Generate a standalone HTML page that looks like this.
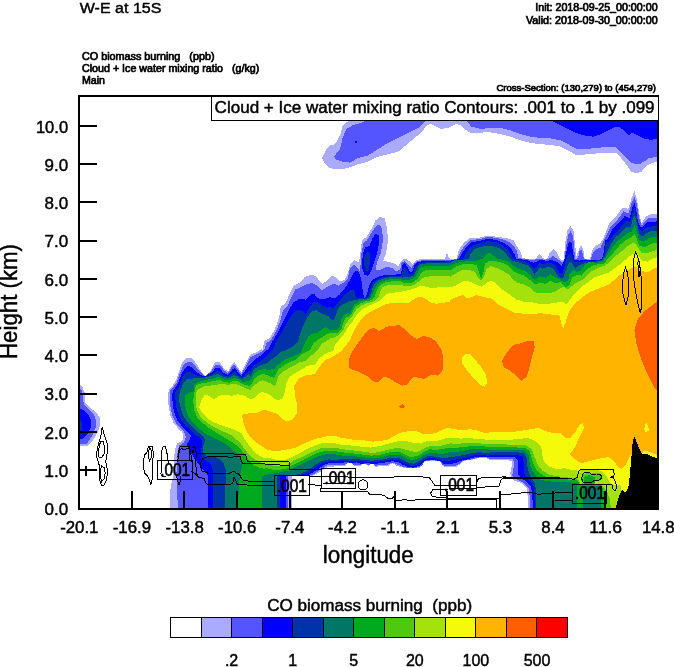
<!DOCTYPE html>
<html><head><meta charset="utf-8"><title>W-E at 15S</title>
<style>
html,body{margin:0;padding:0;background:#fff;}
body{width:674px;height:667px;position:relative;overflow:hidden;font-family:"Liberation Sans",sans-serif;}
svg text{font-family:"Liberation Sans",sans-serif;fill:#000;stroke:#000;stroke-width:0.45px;white-space:pre;}
</style></head><body>
<svg width="674" height="667" viewBox="0 0 674 667" style="position:absolute;left:0;top:0;will-change:transform">
<defs><clipPath id="pc"><rect x="79" y="96" width="580" height="414"/></clipPath></defs>
<g clip-path="url(#pc)" shape-rendering="crispEdges">
<polygon fill="#aaaaff" points="169.7,509.0 169.7,495.0 171.0,485.0 173.4,475.0 174.0,457.4 175.2,449.0 177.0,443.6 181.8,441.2 183.6,437.0 182.4,432.2 178.2,428.6 173.4,422.6 170.4,415.4 168.6,407.0 168.0,395.0 169.0,389.5 175.0,382.7 178.3,373.7 182.2,362.5 186.2,358.3 192.2,358.3 196.7,364.0 200.8,370.7 205.0,376.0 211.0,370.0 214.7,362.5 220.0,362.2 224.5,369.2 228.2,371.5 232.0,364.0 234.5,362.2 238.0,367.7 241.3,372.2 246.2,362.5 250.0,354.7 256.0,352.5 262.0,348.7 262.7,350.0 264.2,340.7 269.5,338.5 274.7,329.5 279.2,317.5 280.7,307.0 286.0,302.5 289.7,293.5 293.5,286.0 301.0,282.2 304.7,277.0 311.5,274.7 316.0,276.2 319.7,281.5 322.7,283.7 327.2,280.7 331.7,275.5 335.5,277.0 340.0,281.5 344.5,280.0 348.2,272.5 350.0,265.0 354.5,260.2 359.0,262.5 360.5,252.0 362.0,240.0 366.5,237.0 371.0,229.5 375.5,220.5 380.0,216.7 384.5,218.2 386.7,226.5 388.2,240.0 386.0,253.5 383.0,261.0 389.0,261.7 395.0,264.0 398.0,267.0 401.7,260.2 405.5,258.7 410.0,261.7 413.0,264.0 416.0,260.2 419.0,259.5 428.0,259.2 440.0,259.2 445.2,258.7 446.0,254.2 447.5,253.5 449.0,258.0 450.0,258.7 456.5,258.7 458.7,250.0 464.0,242.5 470.0,238.0 479.0,237.7 488.0,235.7 497.0,236.8 506.0,238.0 513.5,240.2 516.5,245.5 520.2,251.5 522.5,258.2 530.0,259.3 536.0,259.3 538.2,255.2 540.0,253.7 542.7,258.2 547.2,259.0 549.5,253.0 553.2,249.2 557.0,253.0 560.0,259.0 563.7,260.5 565.2,242.5 567.5,230.5 570.5,226.0 573.5,230.5 575.0,244.0 576.5,256.0 578.7,250.0 581.0,245.5 583.2,249.2 584.7,259.0 590.0,259.3 592.2,250.0 596.0,245.5 600.5,243.2 603.5,238.0 609.2,223.2 616.4,216.0 622.4,207.6 628.4,208.8 632.0,196.8 634.4,190.8 636.8,199.2 639.2,213.6 641.6,223.2 646.4,216.0 652.4,213.6 659.6,214.8 659.6,510.0 527.8,510.0 527.8,500.0 527.1,488.3 521.0,482.9 512.9,480.2 511.6,477.5 510.2,473.4 511.6,466.7 512.3,460.7 506.2,460.3 498.1,460.3 490.0,460.2 486.5,457.9 481.7,457.6 475.8,458.8 469.9,460.1 463.9,460.8 460.4,464.2 455.6,467.1 449.7,467.5 444.9,467.1 442.0,464.8 440.2,461.6 434.2,460.6 427.1,461.0 424.2,461.8 422.4,465.4 420.0,467.7 420.0,467.7 413.6,468.3 406.5,468.3 401.7,467.1 397.0,465.9 392.2,463.0 387.5,466.5 380.4,465.9 375.6,467.1 372.0,462.4 368.5,465.9 363.7,463.6 359.0,466.5 354.2,465.9 350.7,461.8 347.1,463.6 344.7,466.5 340.0,465.9 340.0,465.9 333.6,466.5 328.8,466.5 324.7,468.9 319.3,472.5 313.4,475.4 307.5,476.3 291.5,476.3 291.5,509.0 291.5,510.0 169.7,510.0"/>
<polygon fill="#aaaaff" points="322.0,158.0 326.0,150.0 330.0,145.4 335.0,144.2 340.1,135.4 342.6,125.3 347.7,121.5 355.2,119.0 355.2,96.0 659.0,96.0 659.0,161.8 657.7,161.8 651.4,163.1 646.4,165.6 641.3,171.9 636.3,173.2 631.2,171.9 626.2,164.4 621.1,158.0 616.1,152.5 606.0,153.0 595.9,153.5 585.8,154.3 580.8,155.5 575.8,155.0 568.2,150.5 560.6,146.7 550.5,144.9 540.4,144.2 530.4,142.9 520.3,140.4 510.2,136.6 500.1,134.1 490.0,132.3 486.4,132.3 478.8,132.8 471.2,133.3 466.2,130.3 461.1,125.3 456.1,124.0 448.5,127.8 441.0,129.0 435.9,126.5 430.9,124.0 427.1,125.3 420.8,132.8 413.2,139.1 405.7,145.4 398.1,151.7 388.0,154.3 377.9,156.8 367.8,161.8 357.7,164.4 347.7,168.1 337.6,169.4 330.0,168.1 325.0,164.0"/>
<polygon fill="#aaaaff" points="79.0,384.7 82.0,386.0 84.5,392.0 85.0,402.0 90.0,408.0 96.0,412.0 100.0,418.0 100.4,424.0 98.0,432.0 93.0,440.0 88.0,445.6 79.0,446.0"/>
<polygon fill="#5555ff" points="178.0,509.0 177.0,490.0 176.4,475.0 177.0,459.7 177.6,451.4 179.4,445.4 184.2,442.4 186.0,437.0 184.2,432.2 180.0,428.0 175.2,422.0 172.2,414.8 170.4,407.0 169.8,395.0 170.5,390.2 176.2,383.5 179.8,373.7 183.7,364.7 187.0,362.2 191.8,362.2 195.7,366.7 200.2,372.2 205.0,376.3 211.7,370.7 215.2,365.2 219.7,364.7 224.2,370.7 228.2,373.0 232.3,366.2 234.5,364.7 237.7,369.2 241.3,374.2 246.7,364.7 250.0,357.7 256.0,354.7 262.7,351.0 264.2,350.0 266.5,343.0 271.0,340.0 276.2,331.0 280.7,319.7 283.0,310.0 287.5,306.2 291.2,297.2 295.0,289.7 301.7,286.7 307.0,283.7 313.0,283.3 317.5,286.0 322.0,290.5 326.5,287.2 331.7,284.5 334.2,283.6 338.4,285.7 343.6,282.6 347.8,278.4 350.0,268.0 354.5,264.7 358.2,268.5 360.0,272.0 361.2,255.0 363.5,243.0 367.2,240.0 371.7,232.5 376.2,225.7 380.0,225.0 382.2,229.5 383.0,240.0 380.7,253.5 377.0,262.5 375.5,270.0 380.0,270.0 386.0,267.0 392.0,267.7 396.5,271.5 400.2,269.2 401.7,262.5 404.7,261.0 408.5,264.7 411.5,267.7 414.5,263.2 418.2,260.7 428.0,260.0 450.0,260.0 457.2,259.0 460.2,252.2 464.7,245.5 470.0,240.2 479.0,239.2 488.0,236.8 497.0,238.0 506.0,240.2 512.0,244.0 516.5,250.0 518.7,258.2 530.0,259.7 540.0,259.3 545.0,259.7 549.5,258.2 553.2,256.0 557.7,259.0 561.5,262.0 564.5,260.5 566.0,247.0 568.2,235.0 570.5,231.2 572.7,235.0 574.2,247.0 575.0,259.0 578.0,258.2 579.5,251.5 581.0,249.2 582.5,253.0 584.0,259.3 590.7,259.7 593.0,253.0 596.7,249.2 600.5,247.7 603.5,241.0 610.4,226.8 617.6,219.6 623.6,211.2 628.4,213.6 632.0,201.6 634.4,196.8 636.8,204.0 639.2,218.4 641.6,225.6 647.6,218.4 659.6,217.2 659.6,510.0 529.8,510.0 529.8,500.0 529.1,488.3 523.7,482.9 517.0,479.5 512.3,476.1 512.9,470.7 514.3,464.0 512.9,459.4 503.5,459.1 490.0,459.1 486.5,457.3 481.7,457.0 475.8,458.2 469.9,459.7 463.9,460.4 460.4,463.2 455.6,465.9 449.7,466.5 445.5,466.3 442.6,464.8 440.2,461.2 434.2,460.4 427.1,460.6 424.2,461.6 422.4,464.8 420.0,466.8 420.0,467.1 413.6,468.0 406.5,467.7 401.7,466.3 397.0,464.4 392.2,462.4 387.5,464.8 380.4,464.8 375.6,465.9 372.0,463.2 368.5,465.1 363.7,463.6 359.0,465.4 354.2,465.1 350.7,462.7 347.1,463.0 344.7,465.1 340.0,464.8 340.0,465.1 333.6,464.8 328.8,464.8 324.1,467.1 318.2,471.3 312.2,474.9 305.1,476.3 288.0,476.3 288.0,509.0 288.0,510.0 178.0,510.0"/>
<polygon fill="#5555ff" points="333.8,156.5 340.1,149.2 342.6,137.9 346.4,129.0 352.7,125.3 362.8,122.2 367.8,119.0 367.8,96.0 425.8,96.0 425.8,120.2 424.6,121.5 418.3,127.8 408.2,132.8 398.1,137.9 388.0,142.9 377.9,149.2 367.8,155.5 357.7,158.0 350.2,162.6 342.6,161.8 336.0,159.5"/>
<polygon fill="#5555ff" points="466.2,96.0 466.2,120.2 471.2,126.5 481.3,129.0 491.4,127.8 500.1,127.8 510.2,130.3 520.3,134.1 530.4,136.6 540.4,137.9 550.5,138.4 560.6,140.4 568.2,144.2 575.8,148.5 580.8,149.2 590.9,148.5 601.0,147.5 611.1,146.7 616.1,147.5 621.1,153.0 627.5,159.3 631.2,163.1 638.8,164.4 643.8,161.8 648.9,158.0 659.0,156.8 659.0,96.0"/>
<polygon fill="#5555ff" points="79.0,388.0 81.5,390.0 83.0,398.0 84.0,405.0 89.0,410.0 94.0,414.5 96.0,420.0 95.5,428.0 92.0,436.0 87.0,443.5 79.0,444.0"/>
<polygon fill="#0000ff" points="208.0,509.0 208.0,490.0 207.9,475.0 205.2,471.7 199.8,465.7 194.4,458.5 190.8,452.6 187.8,447.8 187.2,443.6 189.6,440.0 190.8,435.8 187.2,431.6 182.4,426.8 177.6,420.8 174.6,413.6 172.8,405.8 172.2,395.0 172.7,391.0 177.7,384.2 181.3,374.5 184.7,368.5 187.7,366.2 191.2,366.7 194.8,370.0 199.3,374.2 205.0,376.7 212.2,372.2 215.8,367.7 219.2,367.7 223.7,373.0 228.2,374.8 232.7,369.2 234.5,367.7 237.2,371.2 241.3,376.0 247.3,367.7 250.0,364.5 254.5,360.0 260.5,355.5 266.5,349.5 268.0,350.0 272.5,341.5 277.7,332.5 282.2,323.5 286.0,316.0 289.7,308.5 293.5,302.5 299.5,298.7 305.5,299.5 310.0,295.0 313.7,293.5 317.5,298.0 322.0,299.5 328.0,298.0 330.0,297.3 335.2,298.3 339.4,294.7 343.6,289.9 347.8,283.6 351.0,278.4 353.6,273.1 355.2,271.0 357.8,271.0 359.9,275.2 361.5,280.5 362.5,288.9 363.6,295.2 364.6,297.8 366.7,295.2 368.3,288.9 369.9,283.6 372.0,280.5 375.1,278.4 379.3,276.3 384.6,275.2 393.0,275.0 401.0,273.7 402.5,265.5 404.7,263.2 407.7,267.0 410.0,271.5 412.2,272.2 414.5,265.5 418.2,261.7 428.0,261.0 450.0,260.7 458.7,259.3 462.5,252.2 467.0,246.2 471.5,242.2 479.0,241.0 488.0,238.7 497.0,240.2 504.5,243.2 510.5,247.7 514.2,253.7 516.5,258.7 527.0,260.2 533.0,262.7 536.0,262.0 540.0,259.7 546.5,260.8 552.5,260.2 557.0,262.0 561.5,266.5 563.7,262.0 566.7,250.0 569.0,241.7 571.2,241.7 572.7,250.0 574.2,259.7 579.5,260.5 590.0,260.2 597.5,259.9 602.0,259.3 604.2,250.0 605.0,239.5 606.8,240.0 611.6,230.4 618.8,223.2 624.8,216.0 629.6,218.4 632.7,206.4 634.4,202.8 636.1,208.8 638.0,222.0 640.9,228.0 647.6,222.0 659.6,221.3 659.6,510.0 532.5,510.0 532.5,500.0 531.2,486.9 526.4,481.5 521.0,478.2 517.7,473.4 518.3,466.7 517.7,459.9 514.3,457.2 503.5,457.2 490.0,457.5 485.3,456.8 479.3,456.5 473.4,457.6 467.5,459.4 461.5,460.6 455.6,463.0 449.7,464.2 443.7,464.2 440.2,461.2 434.2,460.0 427.1,460.0 423.6,461.8 420.0,465.4 420.0,465.6 413.6,467.7 408.8,467.1 402.9,464.8 398.2,462.0 392.2,461.2 387.5,462.4 380.4,462.7 375.6,464.2 370.9,463.6 366.1,463.0 361.4,464.2 356.6,462.4 351.9,463.6 347.1,462.0 340.0,463.0 340.0,463.0 336.0,463.2 330.0,463.0 324.1,464.8 317.0,469.5 309.9,474.3 302.7,476.0 295.6,476.3 285.5,476.3 285.5,509.0 285.5,510.0 208.0,510.0"/>
<polygon fill="#0000ff" points="550.5,96.0 550.5,120.2 558.1,124.0 565.7,127.8 575.8,132.8 585.8,135.9 593.4,136.6 601.0,134.1 608.5,130.3 614.8,127.3 618.6,126.5 623.7,130.3 628.7,135.4 632.5,132.8 636.3,134.8 643.8,138.4 651.4,139.9 659.0,138.4 659.0,96.0"/>
<polygon fill="#0000ff" points="79.0,408.0 83.0,410.0 88.0,414.0 91.0,420.0 90.5,428.0 87.0,435.0 82.0,439.0 79.0,439.5"/>
<polygon fill="#0000ff" points="362.7,255.0 365.0,247.5 369.5,246.0 372.5,238.5 375.5,234.0 378.5,235.5 379.2,243.0 377.0,253.5 374.0,262.5 371.0,271.5 368.0,276.0 364.2,274.5 362.0,267.0"/>
<polygon fill="#0033aa" points="213.2,509.0 213.0,475.0 212.4,468.1 210.0,463.3 205.8,460.3 202.2,457.4 201.0,452.6 201.6,446.6 202.4,441.2 199.8,437.2 195.0,435.2 190.8,430.4 185.4,425.6 180.6,419.6 177.6,412.4 175.8,404.6 175.2,395.0 175.4,391.7 179.5,385.0 182.8,376.7 186.2,372.2 190.0,371.8 193.7,373.7 198.2,376.0 205.0,377.2 212.5,373.7 216.7,370.7 219.2,370.7 223.0,374.8 228.2,376.3 233.2,372.2 235.0,371.5 237.2,373.7 241.7,377.5 248.5,370.7 250.0,371.2 254.5,365.2 262.0,360.0 268.0,354.7 272.5,349.5 272.5,350.0 277.0,340.0 282.2,331.7 286.0,325.0 289.7,318.2 293.5,313.0 298.0,310.0 301.7,310.7 305.5,314.5 310.0,307.0 313.0,302.5 317.5,301.7 322.0,305.5 328.0,307.7 330.0,306.7 333.1,308.8 336.3,304.6 339.4,300.4 343.6,296.2 347.8,292.0 351.0,289.9 354.1,289.4 355.2,293.1 355.7,298.3 361.5,298.1 365.7,298.1 368.3,296.8 369.9,291.0 371.4,285.7 373.5,282.1 376.2,280.0 380.4,277.9 385.6,276.5 393.0,276.1 401.0,276.0 403.2,270.0 404.7,267.0 407.0,270.0 409.2,273.7 412.2,274.5 415.2,267.7 419.0,262.8 428.0,261.9 450.0,261.4 462.5,259.6 466.2,252.2 470.0,247.7 474.5,244.7 482.0,242.5 488.0,241.0 497.0,242.5 503.0,245.5 508.2,250.0 512.0,256.0 515.0,259.3 524.0,261.2 530.0,264.2 533.7,268.0 536.7,266.5 540.0,262.7 542.0,264.2 549.5,262.7 555.5,265.0 559.2,272.5 562.2,274.0 565.2,263.5 567.5,256.0 570.5,253.0 572.7,257.5 574.2,262.0 581.0,261.7 590.0,260.8 602.0,260.2 605.0,251.5 605.7,241.7 608.7,242.4 614.0,234.0 620.0,228.0 626.0,220.8 630.3,222.0 633.2,210.0 634.4,207.6 636.1,213.6 638.0,226.8 641.6,231.6 647.6,226.8 659.6,225.6 659.6,510.0 534.5,510.0 534.5,500.0 533.9,486.9 530.5,481.5 526.4,477.5 523.7,472.1 524.4,464.0 522.4,456.8 517.0,454.8 503.5,454.8 490.0,455.2 488.8,455.9 481.7,454.7 474.6,455.3 467.5,457.0 460.4,458.8 453.2,460.0 446.1,461.2 441.4,460.6 436.6,458.8 429.5,457.6 424.7,459.4 420.0,463.0 420.0,463.2 413.6,465.9 408.8,465.4 404.1,463.0 399.3,460.6 392.2,459.4 385.1,460.6 378.0,461.8 370.9,462.0 363.7,461.6 354.2,460.6 347.1,460.6 340.0,460.4 340.0,460.6 336.0,461.6 330.0,461.2 322.9,463.0 315.8,467.1 308.7,472.5 300.4,475.4 289.7,476.0 280.2,476.3 280.2,509.0 280.2,510.0 213.2,510.0"/>
<polygon fill="#0033aa" points="79.0,419.0 81.0,420.0 82.5,425.0 82.0,430.0 79.0,432.5"/>
<polygon fill="#0033aa" points="364.2,258.0 366.5,252.0 369.5,252.7 370.2,261.0 368.7,270.0 365.7,271.5 364.2,265.5"/>
<polygon fill="#007766" points="225.2,509.0 225.2,490.0 226.2,475.0 225.6,469.4 223.8,463.6 219.0,458.8 213.0,456.4 205.8,455.6 203.1,452.6 203.4,445.4 205.2,440.6 203.4,436.4 198.6,432.8 193.8,428.0 189.0,423.8 184.2,417.8 181.2,410.6 179.4,402.2 179.4,395.0 180.2,391.0 183.2,383.5 187.0,379.3 192.2,378.7 197.5,377.5 205.0,377.5 212.5,375.7 217.7,373.7 223.0,376.7 228.2,377.8 233.5,375.2 237.2,376.0 242.2,379.3 249.2,373.7 250.0,377.1 253.6,369.9 258.1,366.3 263.5,364.5 268.0,362.7 270.7,360.0 275.0,357.0 280.0,352.5 286.0,350.0 286.0,350.0 293.5,346.0 298.0,341.5 300.2,334.0 302.5,326.5 307.0,317.5 311.5,311.5 316.0,310.0 320.5,313.0 325.0,314.5 329.5,316.7 330.0,319.3 334.2,319.8 336.3,314.1 338.4,307.8 342.6,304.6 347.8,302.0 353.1,300.4 359.4,299.2 365.7,298.9 369.3,297.5 371.4,292.0 373.0,286.8 375.1,283.1 378.3,280.5 382.5,278.9 387.7,277.6 393.0,277.1 402.5,277.5 410.0,276.7 413.7,276.0 416.7,269.2 419.7,264.3 428.0,263.2 450.0,262.8 455.0,260.2 468.5,259.3 470.7,253.7 474.5,249.2 480.5,247.0 486.5,245.5 492.5,246.2 500.0,248.5 505.2,252.2 508.2,256.7 512.0,260.5 519.5,262.7 527.0,265.0 531.5,269.5 534.5,274.7 537.5,271.0 540.0,267.2 542.7,268.7 549.5,266.5 554.0,269.5 558.5,277.0 563.0,278.5 566.7,268.0 569.7,261.2 572.0,263.5 575.0,268.0 579.5,265.0 585.5,263.2 593.0,262.0 602.0,260.8 605.7,254.5 610.4,244.8 615.2,237.6 621.2,232.3 627.2,226.8 630.8,226.8 633.7,216.0 635.1,216.0 636.8,223.2 639.2,234.0 642.8,236.4 648.8,231.6 659.6,230.4 659.6,510.0 535.9,510.0 535.9,500.0 535.9,491.0 535.2,483.5 531.8,478.8 529.1,473.4 527.5,466.7 526.4,457.2 523.7,453.2 517.0,452.1 503.5,452.1 490.0,452.5 486.5,452.9 479.3,452.3 472.2,452.9 465.1,454.7 458.0,456.1 450.9,457.0 443.7,458.2 436.6,457.0 429.5,455.6 424.7,457.6 420.0,460.6 420.0,460.8 413.6,463.6 408.8,463.0 404.1,460.6 399.3,458.2 392.2,457.6 385.1,458.8 378.0,460.4 370.9,460.6 363.7,460.0 354.2,458.8 347.1,458.5 340.0,458.8 340.0,459.2 336.0,460.0 328.8,459.4 321.7,461.2 314.6,465.4 307.5,470.7 299.2,474.3 289.7,475.4 277.2,476.0 277.2,509.0 277.2,510.0 225.2,510.0"/>
<polygon fill="#00aa1e" points="238.0,509.0 238.7,490.0 240.0,475.0 241.8,468.2 242.4,462.2 240.0,457.4 235.8,452.6 230.4,447.8 225.0,443.6 219.0,440.6 213.0,437.6 205.2,433.4 199.2,428.6 193.2,423.2 188.4,416.6 185.4,407.0 184.8,395.0 193.9,391.0 194.5,384.7 196.7,382.4 200.5,381.2 205.0,380.2 212.5,378.7 218.5,376.7 223.0,379.3 228.2,380.2 233.5,378.2 238.0,378.7 242.5,381.7 250.0,381.1 254.5,373.5 259.0,370.3 263.5,369.0 268.0,369.9 274.3,369.0 277.0,365.4 280.6,362.7 284.2,360.0 293.5,356.2 301.0,352.5 301.7,350.0 301.7,350.0 305.5,341.5 308.5,336.2 313.0,333.2 317.5,332.5 322.0,329.5 325.0,327.2 329.5,329.5 330.0,329.8 336.3,330.3 340.0,326.7 341.5,319.3 343.6,315.1 347.8,313.0 349.9,314.1 352.0,308.8 354.7,304.1 359.4,301.5 364.6,299.9 369.9,298.9 372.5,294.1 374.6,288.9 376.7,285.2 379.8,282.4 384.6,280.5 389.8,279.4 400.0,279.2 404.0,280.5 411.5,279.3 416.0,276.0 419.0,270.0 422.0,266.7 429.5,265.8 450.0,265.5 450.5,265.0 458.0,262.7 470.0,260.5 477.5,260.5 483.5,258.2 486.5,253.7 490.2,253.0 494.0,256.0 497.0,259.0 503.0,259.7 509.0,262.0 513.5,265.7 518.0,268.7 524.0,270.2 530.0,274.7 534.5,280.0 540.0,276.2 545.9,277.8 550.4,274.1 554.8,277.1 559.3,279.3 563.7,282.3 568.2,280.8 569.7,273.4 573.4,269.6 577.1,271.9 580.8,270.4 584.5,265.2 589.0,261.5 596.0,263.0 602.7,262.0 611.6,248.4 617.6,241.2 623.6,236.4 628.4,232.8 632.0,231.6 634.4,225.6 636.8,231.6 639.2,240.0 644.0,241.2 650.0,237.6 659.6,236.4 659.6,510.0 601.3,510.0 601.3,485.6 583.0,485.6 583.0,509.0 577.0,509.0 577.0,483.5 565.6,481.5 550.7,481.5 541.3,480.2 536.6,476.8 532.5,470.7 529.8,464.0 528.5,454.5 524.4,450.5 517.0,449.8 503.5,449.5 490.0,449.8 486.5,449.3 479.3,448.7 472.2,448.7 465.1,450.5 458.0,451.7 450.9,451.7 443.7,453.5 436.6,453.5 429.5,452.9 424.7,454.7 420.0,457.6 420.0,458.0 413.6,460.0 408.8,459.4 404.1,457.0 399.3,454.7 392.2,454.7 385.1,456.1 378.0,458.0 370.9,458.2 363.7,457.3 354.2,456.1 347.1,455.9 340.0,455.3 340.0,455.3 336.0,454.4 328.8,453.5 321.7,455.3 314.6,457.6 307.5,461.2 300.4,464.8 293.2,468.3 288.5,470.7 283.7,471.3 279.0,472.5 271.9,473.7 265.9,474.9 262.2,476.0 262.2,509.0 262.2,510.0 238.0,510.0"/>
<polygon fill="#50c80f" points="259.6,467.6 254.2,465.4 250.7,462.3 247.1,457.8 243.6,453.4 240.0,448.0 233.4,443.0 227.4,439.4 221.4,435.8 214.2,431.0 208.2,427.4 202.2,422.6 197.4,417.8 194.4,410.6 193.2,402.2 193.8,395.0 194.8,391.0 196.0,385.0 200.5,383.5 206.5,382.7 212.5,381.2 219.2,379.7 224.5,382.0 229.0,382.7 234.2,380.8 238.7,381.7 243.2,384.2 250.0,386.1 253.6,380.2 257.2,376.2 260.8,374.4 264.4,374.2 268.0,375.3 271.6,377.1 273.8,378.0 276.1,373.5 278.8,369.0 282.4,366.3 286.0,364.0 290.5,361.8 295.0,360.0 302.0,354.0 310.0,350.0 310.0,350.0 313.0,343.7 317.5,340.0 322.0,337.7 326.5,334.0 331.0,333.2 330.0,333.0 337.3,333.0 341.5,328.8 343.1,322.5 345.7,317.7 349.9,316.2 352.6,312.0 355.2,306.7 359.9,303.6 365.2,301.5 370.4,300.4 374.6,297.3 376.2,291.5 378.3,287.3 381.4,284.2 385.6,282.4 390.9,281.5 400.0,281.3 405.5,283.5 413.0,282.3 417.5,279.0 421.2,273.0 425.0,270.3 432.5,270.0 450.0,270.0 450.5,270.2 456.5,266.5 462.5,264.2 470.0,263.5 476.7,265.0 479.0,272.5 481.2,279.2 483.5,272.5 485.0,263.5 489.5,260.5 495.5,261.2 501.5,262.7 507.5,265.0 512.0,269.5 516.5,273.2 524.0,275.5 530.0,280.0 534.5,284.5 540.0,283.0 545.9,283.7 550.4,280.8 554.8,283.0 560.8,282.3 566.0,287.4 569.7,285.2 571.9,277.8 577.1,274.8 581.5,275.6 586.0,270.4 591.9,265.9 599.3,264.0 604.2,263.7 608.0,258.0 614.0,252.0 620.0,244.8 626.0,240.0 630.8,237.6 634.4,234.0 636.8,238.8 639.2,246.0 645.2,247.2 651.2,243.6 659.6,242.4 659.6,510.0 606.0,510.0 606.0,509.0 605.5,500.0 604.5,494.0 603.0,489.0 601.0,485.3 579.5,485.3 578.5,482.0 577.0,480.0 565.6,479.4 557.5,478.8 546.7,477.5 539.9,473.4 535.2,468.0 532.5,461.3 529.8,451.2 525.1,448.1 517.0,447.5 503.5,447.1 490.0,447.1 486.5,446.6 479.3,446.1 472.2,445.8 465.1,447.0 458.0,447.6 450.9,447.6 443.7,448.7 436.6,449.9 429.5,449.3 424.7,451.7 420.0,454.7 420.0,454.9 413.6,456.5 408.8,456.5 404.1,454.1 399.3,451.7 392.2,451.7 385.1,453.5 378.0,455.3 370.9,455.6 363.7,454.7 354.2,453.5 347.1,452.9 340.0,452.1 340.0,452.1 336.0,451.4 328.8,450.5 321.7,451.7 314.6,454.1 307.5,457.6 300.4,461.2 293.2,464.8 288.5,468.3 281.4,469.5 274.2,470.1 267.1,468.3 263.5,468.6"/>
<polygon fill="#a5e10a" points="257.8,460.9 252.5,457.8 248.9,454.2 244.5,448.9 240.0,442.7 232.2,435.8 225.0,432.2 217.8,429.2 210.6,425.0 204.6,420.8 199.8,416.0 196.8,409.4 195.6,402.2 195.6,395.0 197.5,389.5 203.5,386.5 209.5,385.7 215.5,385.0 221.5,383.5 227.5,385.0 233.5,383.8 239.5,385.0 244.0,387.7 250.0,390.1 254.5,385.2 259.0,381.6 262.6,380.2 266.2,381.6 270.7,383.4 275.2,386.5 277.0,380.7 278.8,375.3 282.4,371.7 286.0,369.9 290.5,367.2 295.0,364.9 298.6,362.7 304.0,361.3 306.7,360.0 312.0,355.0 317.5,350.0 317.5,350.0 322.0,343.7 328.0,340.0 330.0,338.5 334.0,337.7 338.4,335.6 343.1,330.9 345.2,324.6 348.4,320.4 351.5,317.2 354.1,313.0 356.8,308.8 361.0,305.7 366.2,303.4 371.4,302.0 376.2,299.9 378.8,296.2 380.4,291.0 382.5,287.3 386.7,285.5 393.0,284.7 400.0,284.7 407.0,286.5 414.5,285.0 419.7,280.5 423.5,277.5 431.0,276.0 440.0,275.7 450.0,276.0 450.5,276.7 455.0,274.0 461.0,270.2 468.5,269.5 474.5,271.7 478.2,277.7 481.2,280.7 484.2,276.2 486.5,268.7 491.0,266.2 497.0,268.0 503.0,271.0 509.0,274.7 513.5,280.0 518.0,283.0 524.0,284.5 530.0,287.5 534.5,292.0 540.0,293.5 547.4,293.4 554.8,291.9 559.3,288.9 563.7,286.7 568.2,289.7 571.9,286.0 577.1,282.3 583.0,279.3 587.5,274.8 591.9,271.1 599.3,267.4 604.0,266.0 609.2,262.8 616.4,255.6 623.6,249.6 629.6,244.8 634.4,242.4 638.0,247.2 641.6,253.2 647.6,253.2 653.6,250.8 659.6,249.6 659.6,510.0 611.0,510.0 611.0,509.0 609.5,498.0 607.0,492.0 604.5,488.0 601.0,485.0 580.5,485.0 579.5,481.5 577.0,478.5 565.6,477.2 560.2,476.8 549.4,474.8 542.6,470.7 537.9,465.3 535.2,458.6 531.8,449.1 525.8,445.4 517.0,444.8 503.5,444.4 490.0,444.0 486.5,444.0 479.3,443.4 472.2,442.8 465.1,442.8 458.0,444.0 450.9,443.4 443.7,445.2 436.6,446.4 429.5,446.4 424.7,448.1 420.0,451.1 420.0,451.4 413.6,451.7 406.5,449.9 399.3,448.1 392.2,448.7 385.1,450.5 378.0,452.3 370.9,452.9 363.7,451.7 354.2,450.5 347.1,449.9 340.0,448.7 340.0,448.7 336.0,448.1 328.8,447.6 321.7,448.1 314.6,450.5 307.5,454.1 300.4,457.6 293.2,460.6 288.5,464.8 281.4,465.9 274.2,465.9 267.1,464.2 263.2,463.6"/>
<polygon fill="#50c80f" points="582.3,474.0 590.6,472.8 600.1,472.8 601.9,477.0 600.1,480.5 595.4,480.5 594.2,485.0 582.3,485.0 581.1,478.7"/>
<polygon fill="#00aa1e" points="583.5,477.0 589.4,475.2 595.4,477.6 594.2,485.0 583.5,485.0"/>
<polygon fill="#f5fa0a" points="257.8,454.7 253.4,450.7 248.9,445.3 245.3,440.0 241.8,433.4 234.6,429.8 227.4,427.4 220.2,425.0 213.0,422.0 207.0,417.8 202.2,413.0 199.2,407.0 201.0,401.0 204.6,395.0 207.2,394.7 214.0,399.2 220.0,395.5 226.0,394.7 232.0,395.8 238.0,394.3 244.0,395.2 250.0,399.6 254.5,397.8 259.0,393.3 261.7,391.9 266.2,393.3 270.7,395.5 274.3,398.7 277.0,400.5 281.5,399.1 284.2,395.1 285.5,387.9 286.9,381.6 289.6,377.1 293.2,374.4 297.7,371.7 302.2,369.0 306.7,366.3 310.0,364.9 314.5,365.2 319.0,358.5 325.0,354.0 334.0,350.0 334.2,346.0 340.5,338.2 345.7,331.9 348.4,326.7 352.0,322.5 355.2,317.2 358.3,313.0 362.5,309.3 367.8,306.2 373.0,304.1 378.3,301.5 382.5,298.3 385.6,294.7 388.8,293.1 394.0,292.6 401.0,291.7 408.5,290.2 416.0,288.0 420.5,285.7 425.0,286.5 431.0,288.0 440.0,287.2 450.0,286.5 450.5,287.2 455.0,286.0 461.0,282.2 465.5,280.7 471.5,282.2 477.5,285.2 482.0,286.7 486.5,283.0 491.0,280.7 495.5,283.0 500.0,287.5 504.5,291.2 510.5,295.0 516.5,299.5 524.0,301.7 533.0,302.5 540.0,304.0 547.4,303.8 554.8,303.0 562.3,301.5 566.7,304.5 569.7,300.1 574.1,294.1 581.5,286.7 589.0,281.5 594.9,277.1 609.2,272.3 618.8,265.2 626.0,259.2 632.0,254.4 636.8,253.2 641.6,260.4 647.6,261.6 653.6,258.0 659.6,256.8 659.6,510.0 621.5,510.0 621.5,490.0 620.3,484.7 616.7,486.0 611.0,483.5 608.4,480.0 606.0,475.0 602.5,471.6 597.0,470.0 591.0,469.0 585.0,469.0 579.0,470.0 573.0,470.4 567.0,468.6 562.0,468.0 562.9,468.3 557.5,469.4 549.4,466.7 544.0,461.3 542.0,454.5 541.3,446.4 535.9,441.0 527.8,438.1 517.0,439.0 506.2,440.4 498.1,440.4 490.0,440.0 481.7,439.2 474.6,438.6 467.5,438.1 460.4,438.6 453.2,437.5 446.1,438.1 439.0,440.4 431.9,441.0 424.7,441.6 420.0,444.0 420.0,443.4 413.6,442.8 406.5,441.0 399.3,441.0 392.2,442.8 385.1,444.6 378.0,446.4 370.9,447.6 363.7,447.0 354.2,445.8 347.1,445.2 340.0,444.6 340.0,444.6 336.0,443.4 328.8,442.8 321.7,443.4 314.6,445.8 307.5,448.7 300.4,452.9 293.2,456.5 287.3,459.4 281.4,460.0 274.2,459.4 267.1,457.6 263.2,457.8"/>
<polygon fill="#ffb400" points="257.8,443.6 253.4,440.0 250.0,436.5 247.0,432.0 244.0,425.0 241.7,414.8 250.0,413.1 255.4,413.5 259.9,411.7 263.5,409.9 268.0,410.8 272.5,412.2 277.0,414.0 280.6,417.6 286.0,421.5 292.0,420.0 296.5,414.0 297.2,405.0 295.0,396.0 294.2,385.5 299.5,378.0 307.0,375.0 314.5,374.2 319.0,367.5 325.0,360.0 334.0,356.2 341.5,351.0 347.5,343.5 349.9,340.0 352.6,334.0 356.2,326.7 360.4,320.4 364.6,315.6 369.9,312.0 375.1,309.3 380.4,306.7 385.6,304.1 390.9,303.1 396.1,303.1 401.0,303.0 408.5,303.0 413.0,300.0 417.5,297.0 422.0,296.7 426.5,299.2 429.5,302.2 435.5,303.7 443.0,303.0 450.0,301.5 450.5,299.5 452.0,298.7 458.0,296.5 463.2,295.0 467.0,298.0 471.5,297.2 476.0,295.0 482.0,296.5 488.0,298.0 492.5,298.7 497.0,304.0 503.0,307.0 509.0,310.0 515.0,313.0 524.0,313.7 533.0,314.5 540.0,313.0 547.4,314.2 554.8,314.9 559.3,315.6 561.5,323.8 563.0,329.0 565.2,323.8 567.4,316.4 569.7,310.4 574.1,304.5 581.5,297.8 590.4,291.9 609.2,284.3 618.8,275.9 628.4,269.9 635.6,266.4 641.6,271.1 647.6,272.3 653.6,268.8 659.6,266.8 659.6,510.0 631.2,510.0 631.2,453.5 629.0,458.0 626.0,464.0 621.5,469.2 617.0,465.5 612.5,459.5 608.0,457.2 599.0,458.7 590.0,461.0 581.0,463.2 575.0,459.5 569.7,454.2 575.0,447.5 578.0,440.0 581.0,434.0 584.0,428.0 582.5,423.2 579.5,425.0 575.0,432.5 570.5,437.7 566.0,438.5 560.0,432.5 554.6,433.4 545.7,431.2 539.0,427.9 530.0,429.4 519.0,431.2 508.0,432.3 500.0,431.5 491.2,432.4 484.1,432.7 475.8,430.3 469.9,429.2 461.5,430.3 455.6,429.2 447.3,428.0 441.4,430.3 435.4,433.3 427.1,433.9 420.0,433.3 420.0,432.1 413.6,430.9 406.5,431.5 399.3,433.3 392.2,436.9 387.5,439.8 380.4,441.0 373.2,441.6 363.7,440.4 354.2,439.8 347.1,438.6 340.0,437.5 340.0,437.5 336.0,436.3 331.2,435.7 324.1,436.9 317.0,438.6 309.9,441.0 302.7,444.0 295.6,447.6 288.5,449.3 281.4,450.5 274.2,451.1 267.1,449.9 263.2,447.1"/>
<polygon fill="#f5fa0a" points="462.0,357.9 464.6,354.5 469.1,354.1 473.5,357.9 480.2,365.6 485.8,374.5 487.3,382.3 484.7,386.8 480.2,384.6 473.5,377.9 466.9,370.1 462.4,363.4"/>
<polygon fill="#f5fa0a" points="641.7,453.5 644.0,450.8 650.0,452.0 659.0,455.5 659.0,459.0 641.7,455.0"/>
<polygon fill="#f5fa0a" points="646.2,422.0 644.0,429.5 646.2,432.5 649.2,430.2 647.7,425.0"/>
<polygon fill="#ff5f00" points="348.5,361.2 351.1,353.4 357.8,343.4 364.5,334.5 370.0,328.9 374.5,327.8 379.0,331.1 386.7,326.7 399.0,325.1 404.5,328.9 411.2,335.6 416.8,338.9 422.4,336.3 429.0,336.7 435.7,341.2 441.3,349.0 443.5,359.0 442.8,370.1 437.9,375.7 431.3,374.5 424.6,379.0 419.0,377.9 413.4,376.8 406.8,384.6 402.3,385.7 395.6,382.3 389.0,377.9 383.4,376.8 377.8,382.3 372.3,381.2 366.7,375.7 360.0,372.3 353.4,370.1 348.9,367.9"/>
<polygon fill="#ff5f00" points="399.0,406.8 402.3,403.9 405.7,406.8 402.3,408.4"/>
<polygon fill="#ff5f00" points="501.9,360.8 506.7,352.8 513.4,344.8 520.1,343.4 528.1,340.7 533.4,340.7 534.8,347.4 532.1,356.8 529.4,367.5 526.7,376.8 521.4,380.8 516.1,375.5 509.4,370.1 504.0,367.5"/>
<polygon fill="#ff5f00" points="659.0,300.0 656.0,302.3 650.0,307.1 644.3,311.4 637.6,319.4 634.4,330.1 636.3,343.4 640.3,356.8 645.6,370.1 650.9,380.8 655.0,388.8 659.0,391.0"/>
<polygon fill="#0000ff" points="354.5,141.0 356.5,141.0 356.5,142.5 354.5,142.5"/>
<polygon fill="#000000" points="615.5,509.0 617.7,500.0 620.0,494.0 622.2,490.2 625.2,492.5 628.2,488.0 629.7,476.0 630.5,467.0 631.7,453.5 632.7,441.5 634.2,436.2 636.5,441.5 638.7,447.5 641.7,453.5 647.0,454.2 650.0,455.7 656.0,457.7 659.0,458.0 659.0,510.0 615.5,510.0"/>
</g>
<g id="cn" clip-path="url(#pc)" fill="none" stroke="#000" stroke-width="1" shape-rendering="crispEdges">
<polygon points="102.2,427.1 104.0,434.2 105.8,439.6 107.6,444.9 107.0,454.4 105.8,461.5 107.0,467.5 107.6,472.2 106.4,480.5 104.0,485.3 101.6,485.3 99.9,480.5 99.3,472.2 99.9,467.5 98.1,461.5 96.3,455.6 97.5,447.3 99.3,441.4 101.1,434.2"/>
<polygon points="101.1,441.4 103.4,442.0 104.6,447.3 104.0,454.4 101.1,458.0 98.7,456.8 98.7,449.7 99.9,443.7"/>
<polygon points="101.6,465.7 104.0,467.5 105.2,472.8 104.0,478.7 101.6,481.7 100.5,477.0 100.5,469.9"/>
<rect x="85" y="466" width="2" height="10" fill="#000" stroke="none"/>
<polygon points="149.1,446.1 152.1,446.7 153.3,452.0 153.3,456.8 152.1,461.5 152.7,469.9 152.7,477.0 150.9,484.7 149.1,479.3 147.3,475.8 145.0,473.4 143.2,467.5 143.2,460.4 145.0,454.4 147.3,452.0 147.9,447.9"/>
<polygon points="149.7,447.9 151.5,450.9 151.5,456.8 149.7,460.9 148.5,456.8 148.5,450.9"/>
<polyline points="160.6,474.5 161.7,470.0 161.4,462.5 161.0,458.0 161.4,452.4 163.2,446.4 165.5,446.4 166.6,451.2 167.7,457.2 168.1,460.6 168.9,464.0"/>
<polyline points="160.6,474.5 163.0,477.0 166.0,476.5"/>
<polyline points="177.9,461.7 178.2,455.0 179.0,449.7 180.1,446.7 189.5,446.7 190.2,449.7 191.0,455.0 191.4,461.7"/>
<polyline points="177.9,457.0 179.7,449.7 182.0,448.6 184.2,450.1 185.7,449.0 188.7,448.2 189.5,451.2 189.1,461.0"/>
<polyline points="176.7,476.0 177.9,482.0 179.0,484.6 180.1,482.0 180.9,476.0"/>
<polyline points="192.5,447.5 194.0,446.7 195.1,447.5 195.9,452.0 197.0,453.5 196.2,457.2 195.1,462.5 196.2,468.5 197.0,473.7 198.5,476.7"/>
<rect x="192" y="450" width="2" height="3" fill="#000" stroke="none"/>
<polyline points="196.0,453.7 245.4,454.1 246.7,458.4 247.4,461.7 252.8,461.8 289.0,461.5 289.7,469.7 320.9,469.7"/>
<polyline points="200.7,462.4 202.7,458.4 207.4,457.0 227.4,456.8 230.1,457.7 235.4,456.4 240.1,456.4 241.4,461.0 242.7,463.7 247.4,463.7 270.1,464.1 280.0,465.0 289.0,465.5"/>
<polyline points="200.7,462.4 200.7,466.4 202.0,471.0 207.4,473.0 214.0,473.7 228.7,473.7 231.4,472.4 234.1,471.0 236.1,473.0 239.4,474.4 241.4,478.4 243.4,480.4 248.8,481.1 259.4,481.7 273.8,481.1"/>
<polyline points="191.3,471.7 195.3,473.7 198.0,477.0 204.0,478.4 206.0,483.1 207.4,484.4 226.1,484.7 232.7,483.7 234.1,477.0 236.1,481.1 237.4,484.4 248.8,485.1 273.8,485.1"/>
<polyline points="308.5,477.1 320.9,476.3"/>
<polyline points="308.5,484.5 320.9,485.5"/>
<polyline points="320.7,487.9 320.7,491.9 367.9,491.9 369.6,494.5 383.9,495.1 388.3,498.6 391.9,498.6 393.7,496.8 395.5,500.4 399.0,500.4 406.1,499.5 407.9,500.4 420.0,499.7 496.9,499.7 496.9,509.0"/>
<polyline points="355.4,477.3 420.0,476.8 429.3,477.4 432.5,482.0 434.5,485.1 440.4,485.7"/>
<circle cx="363" cy="484.9" r="5"/>
<polyline points="476.1,485.1 478.2,478.9 482.3,477.4 503.0,477.0 560.0,477.2"/>
<polyline points="503.0,478.0 560.0,478.2"/>
<polyline points="476.1,488.0 482.3,487.2 498.9,486.2 501.0,479.9 503.1,477.9"/>
<polyline points="440.4,489.3 432.5,489.9 430.4,493.4 432.5,496.5 440.4,497.6 459.5,498.6 498.9,498.6 501.0,494.5 509.3,494.1 519.7,493.4 523.9,492.0 532.2,492.8 538.4,494.5 544.6,493.4 560.0,492.8 571.6,493.0"/>
<polyline points="555.0,500.7 571.6,500.7"/>
<polyline points="555.0,478.1 570.4,478.7 574.0,479.3 577.0,477.6 578.7,471.6 580.5,469.8 613.2,469.5 614.3,474.0 613.2,477.6 615.5,482.3 616.7,487.0 615.5,490.6 613.2,489.4 612.0,484.7 607.2,484.1"/>
<polygon points="582.3,475.2 584.1,472.8 589.4,472.8 591.8,474.6 596.5,474.0 600.1,474.0 601.9,477.0 600.1,479.9 594.2,480.5 590.6,482.9 583.5,482.9 581.7,478.7"/>
<polygon points="610.8,477.6 613.2,475.8 613.2,477.6"/>
<polygon points="625.4,267.4 627.2,272.0 628.6,280.0 629.0,287.0 628.6,294.0 627.4,300.0 626.0,304.5 624.4,300.0 623.0,294.0 622.3,287.0 622.8,280.0 624.0,272.0"/>
<polygon points="635.6,252.0 637.6,256.0 639.4,263.0 640.6,272.0 641.6,282.0 642.0,295.0 641.6,306.0 640.4,313.1 638.6,307.0 636.8,298.0 635.0,288.0 633.6,278.0 633.2,268.0 633.6,260.0"/>
<polyline points="637.4,262.0 638.6,268.0 639.4,276.0"/>
<rect x="637.5" y="271" width="2.5" height="6" fill="#000" stroke="none"/>
<polyline points="321.0,476.0 355.4,477.3"/>
<polyline points="323.0,483.8 353.0,483.8"/>
<polyline points="440.4,485.7 476.1,485.1"/>
<polyline points="440.4,489.3 476.1,488.0"/>
<rect x="157.5" y="460.5" width="35" height="19"/>
<rect x="274.5" y="475.5" width="35" height="20"/>
<rect x="321.5" y="468.5" width="34" height="20"/>
<rect x="440.5" y="475.5" width="36" height="20"/>
<rect x="572.5" y="484.5" width="34" height="19"/>
</g>
<g clip-path="url(#pc)"><text x="160.2" y="475.6" font-size="18.5" style="stroke-width:0.7px" textLength="30" lengthAdjust="spacingAndGlyphs">.001</text>
<text x="276.8" y="492" font-size="18.5" style="stroke-width:0.7px" textLength="30" lengthAdjust="spacingAndGlyphs">.001</text>
<text x="324.5" y="483.7" font-size="18.5" style="stroke-width:0.7px" textLength="30" lengthAdjust="spacingAndGlyphs">.001</text>
<text x="444" y="491.4" font-size="18.5" style="stroke-width:0.7px" textLength="30" lengthAdjust="spacingAndGlyphs">.001</text>
<text x="575" y="499.3" font-size="18.5" style="stroke-width:0.7px" textLength="30" lengthAdjust="spacingAndGlyphs">.001</text></g>
<g shape-rendering="crispEdges" fill="#000" stroke="none">
<rect x="78" y="95" width="581" height="2"/><rect x="78" y="508" width="581" height="2"/>
<rect x="78" y="95" width="2" height="415"/><rect x="657" y="95" width="2" height="415"/>
<rect x="80" y="469" width="17" height="2"/>
<rect x="80" y="431" width="17" height="2"/>
<rect x="80" y="393" width="17" height="2"/>
<rect x="80" y="354" width="17" height="2"/>
<rect x="80" y="316" width="17" height="2"/>
<rect x="80" y="278" width="17" height="2"/>
<rect x="80" y="240" width="17" height="2"/>
<rect x="80" y="201" width="17" height="2"/>
<rect x="80" y="163" width="17" height="2"/>
<rect x="80" y="125" width="17" height="2"/>
<rect x="131" y="491" width="2" height="18"/>
<rect x="183" y="491" width="2" height="18"/>
<rect x="236" y="491" width="2" height="18"/>
<rect x="289" y="491" width="2" height="18"/>
<rect x="341" y="491" width="2" height="18"/>
<rect x="394" y="491" width="2" height="18"/>
<rect x="446" y="491" width="2" height="18"/>
<rect x="499" y="491" width="2" height="18"/>
<rect x="552" y="491" width="2" height="18"/>
<rect x="604" y="491" width="2" height="18"/>
</g>
<g shape-rendering="crispEdges"><rect x="211.5" y="96.5" width="447" height="24" fill="#fff" stroke="#000" stroke-width="1"/></g>
<text x="214.6" y="112.6" font-size="16.5" text-anchor="start" textLength="440" lengthAdjust="spacingAndGlyphs" >Cloud + Ice water mixing ratio Contours: .001 to .1 by .099</text>
<text x="79.8" y="13" font-size="15.5" text-anchor="start" textLength="81.6" lengthAdjust="spacingAndGlyphs" >W-E at 15S</text>
<text x="535.3" y="10.9" font-size="10.5" text-anchor="start" textLength="122.3" lengthAdjust="spacingAndGlyphs"  style="stroke-width:0.7px">Init: 2018-09-25_00:00:00</text>
<text x="526" y="23.6" font-size="10.5" text-anchor="start" textLength="131.6" lengthAdjust="spacingAndGlyphs"  style="stroke-width:0.7px">Valid: 2018-09-30_00:00:00</text>
<text x="82" y="59.7" font-size="10.5" text-anchor="start" textLength="132.5" lengthAdjust="spacingAndGlyphs"  style="stroke-width:0.7px">CO biomass burning   (ppb)</text>
<text x="82" y="71.6" font-size="10.5" text-anchor="start" textLength="177.3" lengthAdjust="spacingAndGlyphs"  style="stroke-width:0.7px">Cloud + Ice water mixing ratio   (g/kg)</text>
<text x="82" y="83.8" font-size="10.5" text-anchor="start" textLength="23" lengthAdjust="spacingAndGlyphs"  style="stroke-width:0.7px">Main</text>
<text x="496.4" y="90.9" font-size="9.3" text-anchor="start" textLength="159.6" lengthAdjust="spacingAndGlyphs"  style="stroke-width:0.7px">Cross-Section: (130,279) to (454,279)</text>
<text x="68.1" y="515.0" font-size="16.5" text-anchor="end" textLength="23.6" lengthAdjust="spacingAndGlyphs" >0.0</text>
<text x="68.1" y="476.8" font-size="16.5" text-anchor="end" textLength="23.6" lengthAdjust="spacingAndGlyphs" >1.0</text>
<text x="68.1" y="438.5" font-size="16.5" text-anchor="end" textLength="23.6" lengthAdjust="spacingAndGlyphs" >2.0</text>
<text x="68.1" y="400.3" font-size="16.5" text-anchor="end" textLength="23.6" lengthAdjust="spacingAndGlyphs" >3.0</text>
<text x="68.1" y="362.0" font-size="16.5" text-anchor="end" textLength="23.6" lengthAdjust="spacingAndGlyphs" >4.0</text>
<text x="68.1" y="323.8" font-size="16.5" text-anchor="end" textLength="23.6" lengthAdjust="spacingAndGlyphs" >5.0</text>
<text x="68.1" y="285.6" font-size="16.5" text-anchor="end" textLength="23.6" lengthAdjust="spacingAndGlyphs" >6.0</text>
<text x="68.1" y="247.3" font-size="16.5" text-anchor="end" textLength="23.6" lengthAdjust="spacingAndGlyphs" >7.0</text>
<text x="68.1" y="209.1" font-size="16.5" text-anchor="end" textLength="23.6" lengthAdjust="spacingAndGlyphs" >8.0</text>
<text x="68.1" y="170.8" font-size="16.5" text-anchor="end" textLength="23.6" lengthAdjust="spacingAndGlyphs" >9.0</text>
<text x="68.1" y="132.6" font-size="16.5" text-anchor="end" textLength="32.2" lengthAdjust="spacingAndGlyphs" >10.0</text>
<text x="79.3" y="532.7" font-size="16" text-anchor="middle" textLength="38.3" lengthAdjust="spacingAndGlyphs" >-20.1</text>
<text x="131.9" y="532.7" font-size="16" text-anchor="middle" textLength="38.3" lengthAdjust="spacingAndGlyphs" >-16.9</text>
<text x="184.6" y="532.7" font-size="16" text-anchor="middle" textLength="38.3" lengthAdjust="spacingAndGlyphs" >-13.8</text>
<text x="237.2" y="532.7" font-size="16" text-anchor="middle" textLength="38.3" lengthAdjust="spacingAndGlyphs" >-10.6</text>
<text x="289.8" y="532.7" font-size="16" text-anchor="middle" textLength="28.9" lengthAdjust="spacingAndGlyphs" >-7.4</text>
<text x="342.5" y="532.7" font-size="16" text-anchor="middle" textLength="28.9" lengthAdjust="spacingAndGlyphs" >-4.2</text>
<text x="395.1" y="532.7" font-size="16" text-anchor="middle" textLength="28.9" lengthAdjust="spacingAndGlyphs" >-1.1</text>
<text x="447.8" y="532.7" font-size="16" text-anchor="middle" textLength="23.4" lengthAdjust="spacingAndGlyphs" >2.1</text>
<text x="500.4" y="532.7" font-size="16" text-anchor="middle" textLength="23.4" lengthAdjust="spacingAndGlyphs" >5.3</text>
<text x="553.0" y="532.7" font-size="16" text-anchor="middle" textLength="23.4" lengthAdjust="spacingAndGlyphs" >8.4</text>
<text x="605.7" y="532.7" font-size="16" text-anchor="middle" textLength="32.7" lengthAdjust="spacingAndGlyphs" >11.6</text>
<text x="658.3" y="532.7" font-size="16" text-anchor="middle" textLength="32.7" lengthAdjust="spacingAndGlyphs" >14.8</text>
<text x="322.8" y="563.4" font-size="23" text-anchor="start" textLength="91" lengthAdjust="spacingAndGlyphs" >longitude</text>
<text transform="translate(17.3,359) rotate(-90)" font-size="23.5" textLength="115" lengthAdjust="spacingAndGlyphs">Height (km)</text>
<g shape-rendering="crispEdges" stroke="#000" stroke-width="1">
<rect x="170.5" y="617.5" width="31" height="20" fill="#ffffff"/>
<rect x="201.5" y="617.5" width="30" height="20" fill="#aaaaff"/>
<rect x="231.5" y="617.5" width="31" height="20" fill="#5555ff"/>
<rect x="262.5" y="617.5" width="30" height="20" fill="#0000ff"/>
<rect x="292.5" y="617.5" width="31" height="20" fill="#0033aa"/>
<rect x="323.5" y="617.5" width="30" height="20" fill="#007766"/>
<rect x="353.5" y="617.5" width="31" height="20" fill="#00aa1e"/>
<rect x="384.5" y="617.5" width="30" height="20" fill="#50c80f"/>
<rect x="414.5" y="617.5" width="31" height="20" fill="#a5e10a"/>
<rect x="445.5" y="617.5" width="30" height="20" fill="#f5fa0a"/>
<rect x="475.5" y="617.5" width="31" height="20" fill="#ffb400"/>
<rect x="506.5" y="617.5" width="30" height="20" fill="#ff5f00"/>
<rect x="536.5" y="617.5" width="31" height="20" fill="#ff0000"/>
</g>
<text x="267.2" y="610.6" font-size="16" text-anchor="start" textLength="205" lengthAdjust="spacingAndGlyphs" >CO biomass burning  (ppb)</text>
<text x="231.6" y="665.5" font-size="16" text-anchor="middle" >.2</text>
<text x="292.7" y="665.5" font-size="16" text-anchor="middle" >1</text>
<text x="353.7" y="665.5" font-size="16" text-anchor="middle" >5</text>
<text x="414.8" y="665.5" font-size="16" text-anchor="middle" >20</text>
<text x="475.9" y="665.5" font-size="16" text-anchor="middle" >100</text>
<text x="537.0" y="665.5" font-size="16" text-anchor="middle" >500</text>
</svg>
</body></html>
